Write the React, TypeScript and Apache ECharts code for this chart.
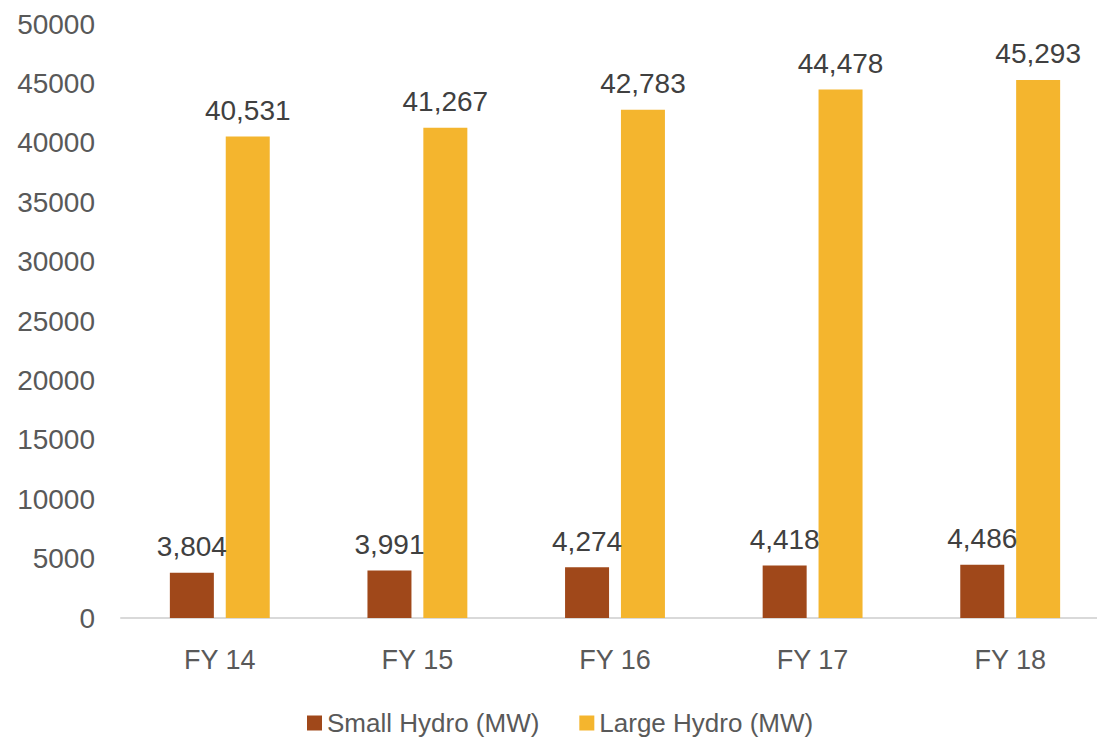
import React, { useEffect, useRef } from "react";
import * as echarts from "echarts";

const categories = ["FY 14", "FY 15", "FY 16", "FY 17", "FY 18"];
const smallHydro = [3804, 3991, 4274, 4418, 4486];
const largeHydro = [40531, 41267, 42783, 44478, 45293];
const seriesNames = ["Small Hydro (MW)", "Large Hydro (MW)"];

const FONT = "Liberation Sans, Arial, sans-serif";

export default function App() {
  const ref = useRef<HTMLDivElement>(null);
  useEffect(() => {
    if (!ref.current) return;
    const chart = echarts.init(ref.current, null, { renderer: "svg" });
    const fmt = (p: any) => Number(p.value).toLocaleString("en-US");
    chart.setOption({
      animation: false,
      textStyle: { fontFamily: FONT },
      grid: { left: 121, right: 0, top: 24, bottom: 127, containLabel: false },
      legend: {
        top: 710,
        left: 307,
        padding: 0,
        itemWidth: 15,
        itemHeight: 15,
        itemGap: 40,
        icon: "rect",
        textStyle: { fontSize: 26, color: "#595959", fontFamily: FONT },
        data: seriesNames,
      },
      xAxis: {
        type: "category",
        data: categories,
        axisLine: { lineStyle: { color: "#d9d9d9", width: 2 } },
        axisTick: { show: false },
        axisLabel: { fontSize: 27, color: "#595959", margin: 28, fontFamily: FONT },
      },
      yAxis: {
        type: "value",
        min: 0,
        max: 50000,
        interval: 5000,
        splitLine: { show: false },
        axisLine: { show: false },
        axisTick: { show: false },
        axisLabel: {
          fontSize: 28,
          color: "#595959",
          margin: 26,
          fontFamily: FONT,
          formatter: (v: number) => String(v),
        },
      },
      series: [
        {
          name: seriesNames[0],
          type: "bar",
          data: smallHydro,
          barWidth: 44,
          barGap: "27%",
          itemStyle: { color: "#A0481A" },
          label: {
            show: true,
            position: "top",
            distance: 12,
            formatter: fmt,
            fontSize: 28,
            color: "#404040",
            fontFamily: FONT,
          },
        },
        {
          name: seriesNames[1],
          type: "bar",
          data: largeHydro,
          barWidth: 44,
          itemStyle: { color: "#F4B52E" },
          label: {
            show: true,
            position: "top",
            distance: 12,
            formatter: fmt,
            fontSize: 28,
            color: "#404040",
            fontFamily: FONT,
          },
        },
      ],
    });
    return () => chart.dispose();
  }, []);
  return (
    <div
      style={{
        position: "absolute",
        left: 0,
        top: 0,
        width: 1097,
        height: 745,
        overflow: "hidden",
        background: "#fff",
      }}
    >
      <div ref={ref} style={{ width: 1109, height: 745 }} />
    </div>
  );
}
